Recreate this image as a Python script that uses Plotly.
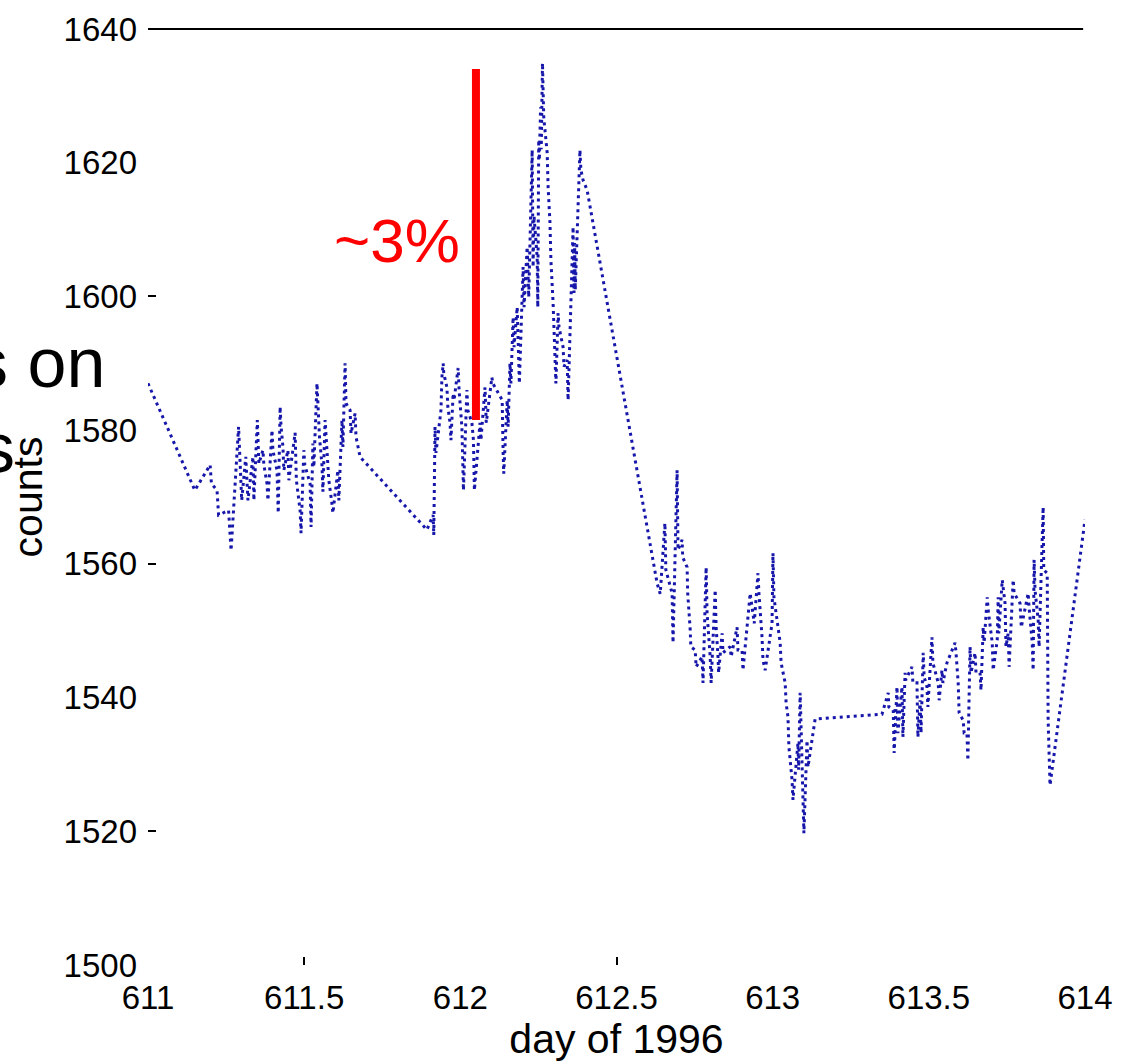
import plotly.graph_objects as go

# Count-rate record, day of 1996 versus counts
day = [
    611.000, 611.150, 611.199, 611.203, 611.221, 611.226, 611.258, 611.263, 611.266,
    611.290, 611.293, 611.297, 611.300, 611.313, 611.320, 611.336, 611.339,
    611.350, 611.355, 611.368, 611.371, 611.381, 611.384, 611.397, 611.400,
    611.413, 611.417, 611.423, 611.426, 611.432, 611.435, 611.448, 611.451,
    611.471, 611.475, 611.487, 611.490, 611.499, 611.502, 611.519, 611.522,
    611.528, 611.531, 611.541, 611.544, 611.546, 611.549, 611.557, 611.560,
    611.567, 611.570, 611.576, 611.579, 611.589, 611.592, 611.608, 611.611,
    611.621, 611.624, 611.631, 611.634, 611.647, 611.650, 611.663, 611.666,
    611.679, 611.893, 611.913, 611.915,
    611.919, 611.922, 611.938, 611.941, 611.945, 611.947, 611.957, 611.960,
    611.967, 611.970, 611.977, 611.980, 611.993, 611.996, 612.005, 612.008,
    612.010, 612.021, 612.024, 612.037, 612.042, 612.045, 612.063, 612.066,
    612.079, 612.083, 612.101, 612.104, 612.134, 612.137, 612.139, 612.150,
    612.153, 612.159, 612.162, 612.169, 612.172, 612.182, 612.185, 612.187,
    612.189, 612.201, 612.204, 612.214, 612.217, 612.219, 612.230, 612.233,
    612.236, 612.246, 612.248, 612.251, 612.253, 612.257, 612.259, 612.263,
    612.267, 612.278, 612.281, 612.287, 612.290, 612.297, 612.300, 612.303,
    612.306, 612.313, 612.316, 612.329, 612.332, 612.342, 612.345, 612.361,
    612.364, 612.366, 612.368, 612.383, 612.386, 612.393, 612.406,
    612.630, 612.640, 612.655, 612.658, 612.678, 612.681, 612.694, 612.697,
    612.710, 612.712, 612.726, 612.728, 612.736, 612.738, 612.752, 612.755,
    612.774, 612.777, 612.787, 612.790, 612.800, 612.803, 612.816, 612.819,
    612.825, 612.827, 612.838, 612.841, 612.864, 612.867, 612.886, 612.889,
    612.902, 612.905, 612.928, 612.941, 612.953, 612.956, 612.966, 612.969,
    612.976, 612.998, 613.001, 613.004, 613.024, 613.027, 613.040, 613.043,
    613.049, 613.052, 613.062, 613.065, 613.081, 613.083, 613.088, 613.091,
    613.097, 613.100, 613.110, 613.113, 613.136, 613.350,
    613.370, 613.372, 613.386, 613.389, 613.398, 613.401, 613.414, 613.417,
    613.424, 613.426, 613.446, 613.449, 613.462, 613.465, 613.472, 613.475,
    613.482, 613.485, 613.494, 613.497, 613.510, 613.513, 613.530, 613.533,
    613.542, 613.545, 613.558, 613.584, 613.587, 613.594, 613.597, 613.610,
    613.613, 613.622, 613.625, 613.632, 613.635, 613.648, 613.651, 613.664,
    613.667, 613.674, 613.677, 613.687, 613.690, 613.703, 613.706, 613.719,
    613.722, 613.724, 613.735, 613.738, 613.744, 613.747, 613.754, 613.757,
    613.770, 613.773, 613.792, 613.796, 613.818, 613.821, 613.831, 613.834,
    613.837, 613.840, 613.850, 613.853, 613.863, 613.866, 613.868, 613.879,
    613.882, 613.888, 614.000,
]

counts = [
    1587.0, 1571.0, 1574.8, 1572.0, 1571.0, 1567.3, 1568.0, 1565.1, 1562.0,
    1580.5, 1577.5, 1573.6, 1569.5, 1576.0, 1569.5, 1576.0, 1569.5,
    1581.5, 1575.0, 1577.0, 1574.8, 1572.0, 1569.5, 1580.0, 1577.0,
    1574.0, 1567.6, 1583.5, 1580.5, 1577.5, 1574.0, 1577.0, 1572.5,
    1579.6, 1572.5, 1568.0, 1564.6, 1577.0, 1574.8, 1572.0, 1565.5,
    1578.0, 1574.5, 1587.0, 1584.5, 1582.0, 1579.0, 1574.8, 1570.8,
    1581.5, 1579.0, 1576.0, 1572.5, 1569.0, 1567.6, 1574.0, 1569.5,
    1581.5, 1577.5, 1590.0, 1584.0, 1583.0, 1579.5, 1582.5, 1579.0,
    1576.0, 1565.1, 1567.3, 1564.3,
    1580.5, 1576.6, 1583.0, 1587.9, 1590.0, 1588.5, 1586.4, 1583.5,
    1581.1, 1578.5, 1585.5, 1584.5, 1589.3, 1586.0, 1580.5, 1576.6,
    1571.0, 1586.0, 1583.0, 1581.1, 1578.5, 1571.0, 1581.1, 1578.5,
    1586.4, 1581.1, 1587.9, 1587.0, 1584.5, 1576.6, 1573.5, 1584.5,
    1580.5, 1590.0, 1587.0, 1596.9, 1592.4, 1598.4, 1593.5, 1590.5,
    1587.0, 1604.4, 1598.4, 1607.4, 1603.5, 1599.9, 1621.9, 1604.4,
    1612.0, 1605.9, 1598.4, 1623.4, 1620.4, 1628.3, 1622.0, 1634.9,
    1626.8, 1621.5, 1616.4, 1611.0, 1605.4, 1599.0, 1593.9, 1590.5,
    1587.0, 1597.5, 1595.4, 1592.4, 1589.5, 1590.5, 1584.5, 1610.4,
    1600.5, 1608.0, 1601.0, 1621.9, 1618.9, 1617.4, 1615.9,
    1557.1, 1555.5, 1566.1, 1559.1, 1555.6, 1548.2, 1574.0, 1562.1,
    1563.6, 1561.0, 1559.5, 1555.6, 1550.1, 1547.6, 1547.1, 1544.6,
    1546.1, 1542.2, 1559.5, 1552.6, 1546.1, 1542.2, 1556.1, 1550.5,
    1546.1, 1543.7, 1549.6, 1546.7, 1547.6, 1546.1, 1550.5, 1547.1,
    1547.1, 1544.1, 1555.6, 1551.1, 1558.6, 1555.6, 1549.0, 1545.6,
    1544.1, 1551.1, 1561.6, 1555.0, 1548.2, 1545.2, 1542.2, 1539.2,
    1537.1, 1532.6, 1527.7, 1524.7, 1533.2, 1529.2, 1540.7, 1534.7,
    1524.2, 1519.7, 1533.6, 1529.6, 1536.8, 1537.5,
    1540.7, 1538.6, 1538.1, 1531.7, 1541.6, 1534.7, 1541.6, 1534.1,
    1543.7, 1542.6, 1544.6, 1542.2, 1542.2, 1534.1, 1539.6, 1534.7,
    1546.7, 1543.1, 1541.6, 1538.6, 1549.0, 1545.2, 1542.2, 1539.6,
    1544.1, 1542.2, 1545.2, 1548.2, 1546.7, 1542.2, 1537.7, 1536.6,
    1534.7, 1534.7, 1530.6, 1547.6, 1543.7, 1546.7, 1543.7, 1543.7,
    1541.1, 1550.5, 1548.2, 1555.0, 1553.1, 1548.2, 1544.1, 1548.6,
    1555.0, 1549.6, 1557.6, 1556.5, 1554.1, 1547.6, 1549.6, 1544.6,
    1557.6, 1555.6, 1554.1, 1550.5, 1555.6, 1553.5, 1548.2, 1544.1,
    1560.6, 1556.1, 1551.6, 1547.6, 1564.0, 1568.5, 1559.1, 1558.6,
    1536.6, 1526.9, 1566.6,
]

# Red bar marking the ~3% swing
swing_day = [612.05, 612.05]
swing_counts = [1581.5, 1634.0]
swing_label = "~3%"

x_ticks = [611, 611.5, 612, 612.5, 613, 613.5, 614]
x_tick_text = ["611", "611.5", "612", "612.5", "613", "613.5", "614"]
y_ticks = [1500, 1520, 1540, 1560, 1580, 1600, 1620, 1640]
y_tick_text = [str(v) for v in y_ticks]

FONT = "Liberation Sans, Arial, Helvetica, sans-serif"

fig = go.Figure()

fig.add_trace(go.Scatter(
    x=day, y=counts, mode="lines",
    line=dict(color="rgb(22,22,170)", width=3, dash="3px,4px"),
    hoverinfo="skip", showlegend=False,
))

fig.add_trace(go.Scatter(
    x=swing_day, y=swing_counts, mode="lines",
    line=dict(color="rgb(255,0,0)", width=8),
    hoverinfo="skip", showlegend=False,
))

fig.add_annotation(
    x=swing_day[0], y=1608.4, xref="x", yref="y",
    text=swing_label, showarrow=False,
    xanchor="right", yanchor="middle", xshift=-14,
    font=dict(family=FONT, size=62, color="rgb(255,0,0)"),
)

# Slide text running in from the left edge
fig.add_annotation(
    x=-0.0438, y=0.643, xref="paper", yref="paper",
    text="s on", showarrow=False, xanchor="right", yanchor="middle",
    font=dict(family=FONT, size=70, color="black"),
)
fig.add_annotation(
    x=-0.1398, y=0.552, xref="paper", yref="paper",
    text="s", showarrow=False, xanchor="right", yanchor="middle",
    font=dict(family=FONT, size=70, color="black"),
)

# Top frame line
fig.add_shape(
    type="line", xref="paper", yref="paper",
    x0=0, x1=0.998, y0=1, y1=1,
    line=dict(color="black", width=2),
)

fig.update_xaxes(
    range=[611, 614], tickvals=x_ticks, ticktext=x_tick_text,
    ticks="", showgrid=False, zeroline=False, showline=False,
    mirror="ticks", ticklabelstandoff=10,
    minor=dict(tickvals=[611.5, 612.5], ticks="inside", ticklen=8,
               tickcolor="black", tickwidth=1.5),
    tickfont=dict(family=FONT, size=33, color="black"),
    title=dict(text="day of 1996", standoff=4,
               font=dict(family=FONT, size=41, color="black")),
)
fig.update_yaxes(
    range=[1500, 1640], tickvals=y_ticks, ticktext=y_tick_text,
    ticks="", showgrid=False, zeroline=False, showline=False,
    mirror="ticks", ticklabelstandoff=10,
    minor=dict(tickvals=[1520, 1560, 1600], ticks="inside", ticklen=8,
               tickcolor="black", tickwidth=1.5),
    tickfont=dict(family=FONT, size=33, color="black"),
    title=dict(text="counts", standoff=8,
               font=dict(family=FONT, size=41, color="black")),
)

fig.update_layout(
    width=1121, height=1064,
    margin=dict(l=148, r=36, t=29, b=99, autoexpand=False),
    plot_bgcolor="white", paper_bgcolor="white",
)

fig.write_html("out.html")
